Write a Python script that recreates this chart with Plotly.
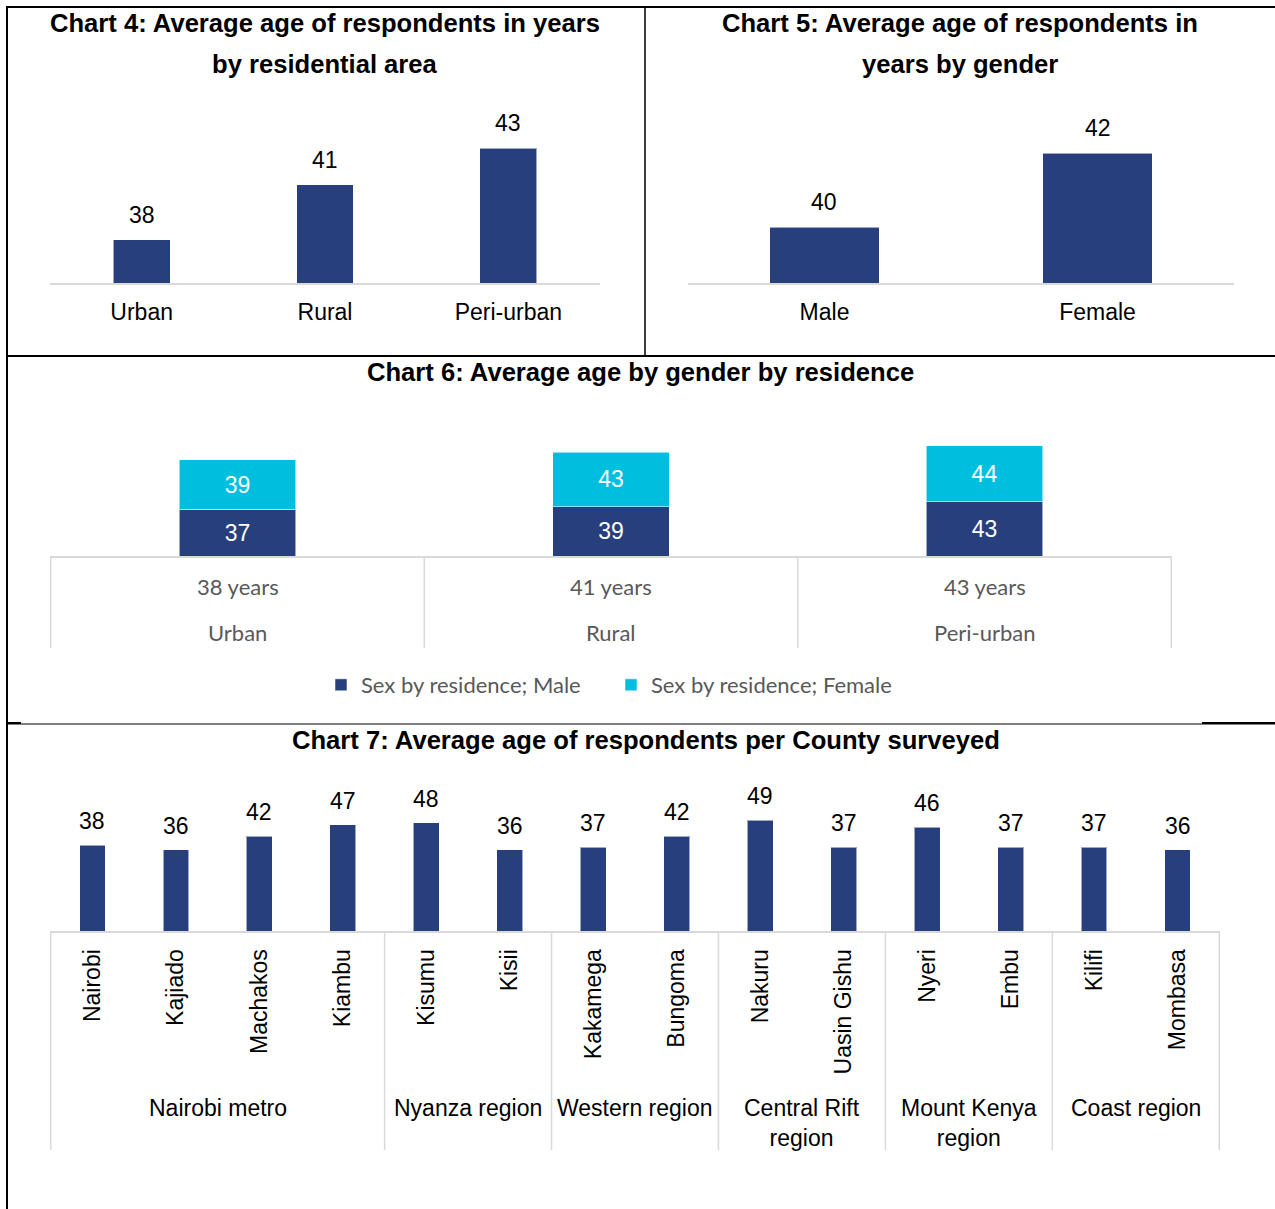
import plotly.graph_objects as go

# ---- data ----
area_labels = ["Urban", "Rural", "Peri-urban"]
area_age = [38, 41, 43]

gender_labels = ["Male", "Female"]
gender_age = [40, 42]

residence_labels = ["Urban", "Rural", "Peri-urban"]
male_by_residence = [37, 39, 43]
female_by_residence = [39, 43, 44]

counties = ["Nairobi", "Kajiado", "Machakos", "Kiambu", "Kisumu", "Kisii",
            "Kakamega", "Bungoma", "Nakuru", "Uasin Gishu", "Nyeri", "Embu",
            "Kilifi", "Mombasa"]
county_region = ["Nairobi metro"] * 4 + ["Nyanza region"] * 2 + ["Western region"] * 2 + \
                ["Central Rift region"] * 2 + ["Mount Kenya region"] * 2 + ["Coast region"] * 2
county_age = [38, 36, 42, 47, 48, 36, 37, 42, 49, 37, 46, 37, 37, 36]

# ---- styling ----
W, H = 1275, 1209
NAVY = "#283F7E"
CYAN = "#00BFDE"
GRID = "#D9D9D9"
GREY_TXT = "#595959"
ARIAL = "Liberation Sans, Arial, sans-serif"
CALIBRI = "Lato, Carlito, Calibri, sans-serif"
TITLE_SIZE = 25.6
TXT_SIZE = 23


def px(x):
    return x / W


def py(y):
    return 1 - y / H


fig = go.Figure()
annotations = []
shapes = []

bar_line = dict(color="rgba(255,255,255,0.55)", width=1)

# ---- Chart 4: age by residential area ----
fig.add_trace(go.Bar(x=area_labels, y=area_age, width=0.31, marker=dict(color=NAVY, line=bar_line),
                     xaxis="x", yaxis="y", showlegend=False, hoverinfo="x+y"))
for c, v in zip(area_labels, area_age):
    annotations.append(dict(x=c, y=v, xref="x", yref="y", text=str(v), showarrow=False,
                            yanchor="middle", yshift=25, font=dict(family=ARIAL, size=TXT_SIZE, color="black")))
for i, line in enumerate(["Chart 4: Average age of respondents in years", "by residential area"]):
    annotations.append(dict(x=px(325), y=py(23 + 41 * i), xref="paper", yref="paper", text=f"<b>{line}</b>",
                            showarrow=False, xanchor="center", yanchor="middle",
                            font=dict(family=ARIAL, size=TITLE_SIZE, color="black")))

# ---- Chart 5: age by gender ----
fig.add_trace(go.Bar(x=gender_labels, y=gender_age, width=0.4, marker=dict(color=NAVY, line=bar_line),
                     xaxis="x2", yaxis="y2", showlegend=False, hoverinfo="x+y"))
for c, v in zip(gender_labels, gender_age):
    annotations.append(dict(x=c, y=v, xref="x2", yref="y2", text=str(v), showarrow=False,
                            yanchor="middle", yshift=25, font=dict(family=ARIAL, size=TXT_SIZE, color="black")))
for i, line in enumerate(["Chart 5: Average age of respondents in", "years by gender"]):
    annotations.append(dict(x=px(960), y=py(23 + 41 * i), xref="paper", yref="paper", text=f"<b>{line}</b>",
                            showarrow=False, xanchor="center", yanchor="middle",
                            font=dict(family=ARIAL, size=TITLE_SIZE, color="black")))

# ---- Chart 6: stacked gender by residence ----
fig.add_trace(go.Bar(x=residence_labels, y=male_by_residence, width=0.313, name="Sex by residence; Male",
                     marker=dict(color=NAVY, line=bar_line), text=male_by_residence, textposition="inside",
                     insidetextanchor="middle", textfont=dict(family=ARIAL, size=TXT_SIZE, color="white"),
                     xaxis="x3", yaxis="y3", hoverinfo="x+y"))
fig.add_trace(go.Bar(x=residence_labels, y=female_by_residence, width=0.313, name="Sex by residence; Female",
                     marker=dict(color=CYAN, line=bar_line), text=female_by_residence, textposition="inside",
                     insidetextanchor="middle", textfont=dict(family=ARIAL, size=TXT_SIZE, color="white"),
                     xaxis="x3", yaxis="y3", hoverinfo="x+y"))
for c, tot in zip(residence_labels, area_age):
    annotations.append(dict(x=c, y=py(586), xref="x3", yref="paper", text=f"{tot} years", showarrow=False,
                            yanchor="middle", font=dict(family=CALIBRI, size=22, color=GREY_TXT)))
    annotations.append(dict(x=c, y=py(632), xref="x3", yref="paper", text=c, showarrow=False,
                            yanchor="middle", font=dict(family=CALIBRI, size=22, color=GREY_TXT)))
for k in range(len(residence_labels) + 1):
    shapes.append(dict(type="line", xref="x3", yref="paper", x0=k - 0.5, x1=k - 0.5,
                       y0=py(556), y1=py(648), line=dict(color=GRID, width=1.5)))
annotations.append(dict(x=px(641), y=py(372), xref="paper", yref="paper",
                        text="<b>Chart 6: Average age by gender by residence</b>", showarrow=False,
                        xanchor="center", yanchor="middle", font=dict(family=ARIAL, size=TITLE_SIZE, color="black")))

# ---- Chart 7: age per county ----
fig.add_trace(go.Bar(x=counties, y=county_age, width=0.31, marker=dict(color=NAVY, line=bar_line),
                     xaxis="x4", yaxis="y4", showlegend=False, hoverinfo="x+y"))
for c, v in zip(counties, county_age):
    annotations.append(dict(x=c, y=v, xref="x4", yref="y4", text=str(v), showarrow=False,
                            yanchor="middle", yshift=24, font=dict(family=ARIAL, size=TXT_SIZE, color="black")))

# region groups: boundaries and centred labels
regions = []
for i, r in enumerate(county_region):
    if not regions or regions[-1][0] != r:
        regions.append([r, i, i])
    else:
        regions[-1][2] = i
shapes.append(dict(type="line", xref="x4", yref="paper", x0=-0.5, x1=-0.5, y0=py(931), y1=py(1150),
                   line=dict(color=GRID, width=1.5)))
for name, i0, i1 in regions:
    shapes.append(dict(type="line", xref="x4", yref="paper", x0=i1 + 0.5, x1=i1 + 0.5,
                       y0=py(931), y1=py(1150), line=dict(color=GRID, width=1.5)))
    label = name
    if len(name) > 16:
        head, tail = name.rsplit(" ", 1)
        label = f"{head}<br>{tail}"
    annotations.append(dict(x=(i0 + i1) / 2, y=py(1093), xref="x4", yref="paper", text=label,
                            showarrow=False, yanchor="top",
                            font=dict(family=ARIAL, size=TXT_SIZE, color="black")))
annotations.append(dict(x=px(646), y=py(740), xref="paper", yref="paper",
                        text="<b>Chart 7: Average age of respondents per County surveyed</b>", showarrow=False,
                        xanchor="center", yanchor="middle", font=dict(family=ARIAL, size=TITLE_SIZE, color="black")))

# ---- panel borders ----
def hline(y, x0, x1, w):
    shapes.append(dict(type="line", xref="paper", yref="paper", x0=px(x0), x1=px(x1), y0=py(y), y1=py(y),
                       line=dict(color="black", width=w)))


def vline(x, y0, y1, w):
    shapes.append(dict(type="line", xref="paper", yref="paper", x0=px(x), x1=px(x), y0=py(y0), y1=py(y1),
                       line=dict(color="black", width=w)))


vline(7, 6, 1209, 2)
hline(7, 6, 1275, 2)
vline(645, 7, 356, 1.5)
hline(356, 6, 1275, 2)
hline(724, 6, 1275, 1)
hline(723, 6, 21, 2)
hline(723, 1202, 1275, 2)

# ---- axes ----
def cat_axis(x0, x1, anchor, **kw):
    d = dict(domain=[px(x0), px(x1)], anchor=anchor, type="category", showgrid=False, zeroline=False,
             showline=True, linecolor=GRID, linewidth=2, ticks="", fixedrange=True,
             tickfont=dict(family=ARIAL, size=TXT_SIZE, color="black"))
    d.update(kw)
    return d


def val_axis(y_top, y_bot, anchor, rng):
    return dict(domain=[py(y_bot), py(y_top)], anchor=anchor, range=rng, visible=False,
                showgrid=False, zeroline=False, fixedrange=True)


fig.update_layout(
    width=W, height=H,
    margin=dict(l=0, r=0, t=0, b=0),
    paper_bgcolor="white", plot_bgcolor="rgba(0,0,0,0)",
    barmode="stack",
    xaxis=cat_axis(50, 600, "y", ticklabelstandoff=7),
    yaxis=val_axis(100, 283, "x", [35.62, 35.62 + 183 / 18.24]),
    xaxis2=cat_axis(688, 1234, "y2", ticklabelstandoff=7),
    yaxis2=val_axis(100, 283, "x2", [38.49, 38.49 + 183 / 37.0]),
    xaxis3=cat_axis(50, 1172, "y3", showticklabels=False),
    yaxis3=val_axis(400, 556, "x3", [0, 156 / 1.265]),
    xaxis4=cat_axis(50, 1220, "y4", tickangle=-90, ticklabelstandoff=7),
    yaxis4=val_axis(770, 931, "x4", [0, 161 / 2.26]),
    legend=dict(orientation="h", x=px(321), y=py(685), xanchor="left", yanchor="middle",
                font=dict(family=CALIBRI, size=22, color=GREY_TXT), bgcolor="rgba(0,0,0,0)",
                traceorder="normal", entrywidth=245, entrywidthmode="pixels"),
    annotations=annotations,
    shapes=shapes,
)

fig.write_html("out.html")
